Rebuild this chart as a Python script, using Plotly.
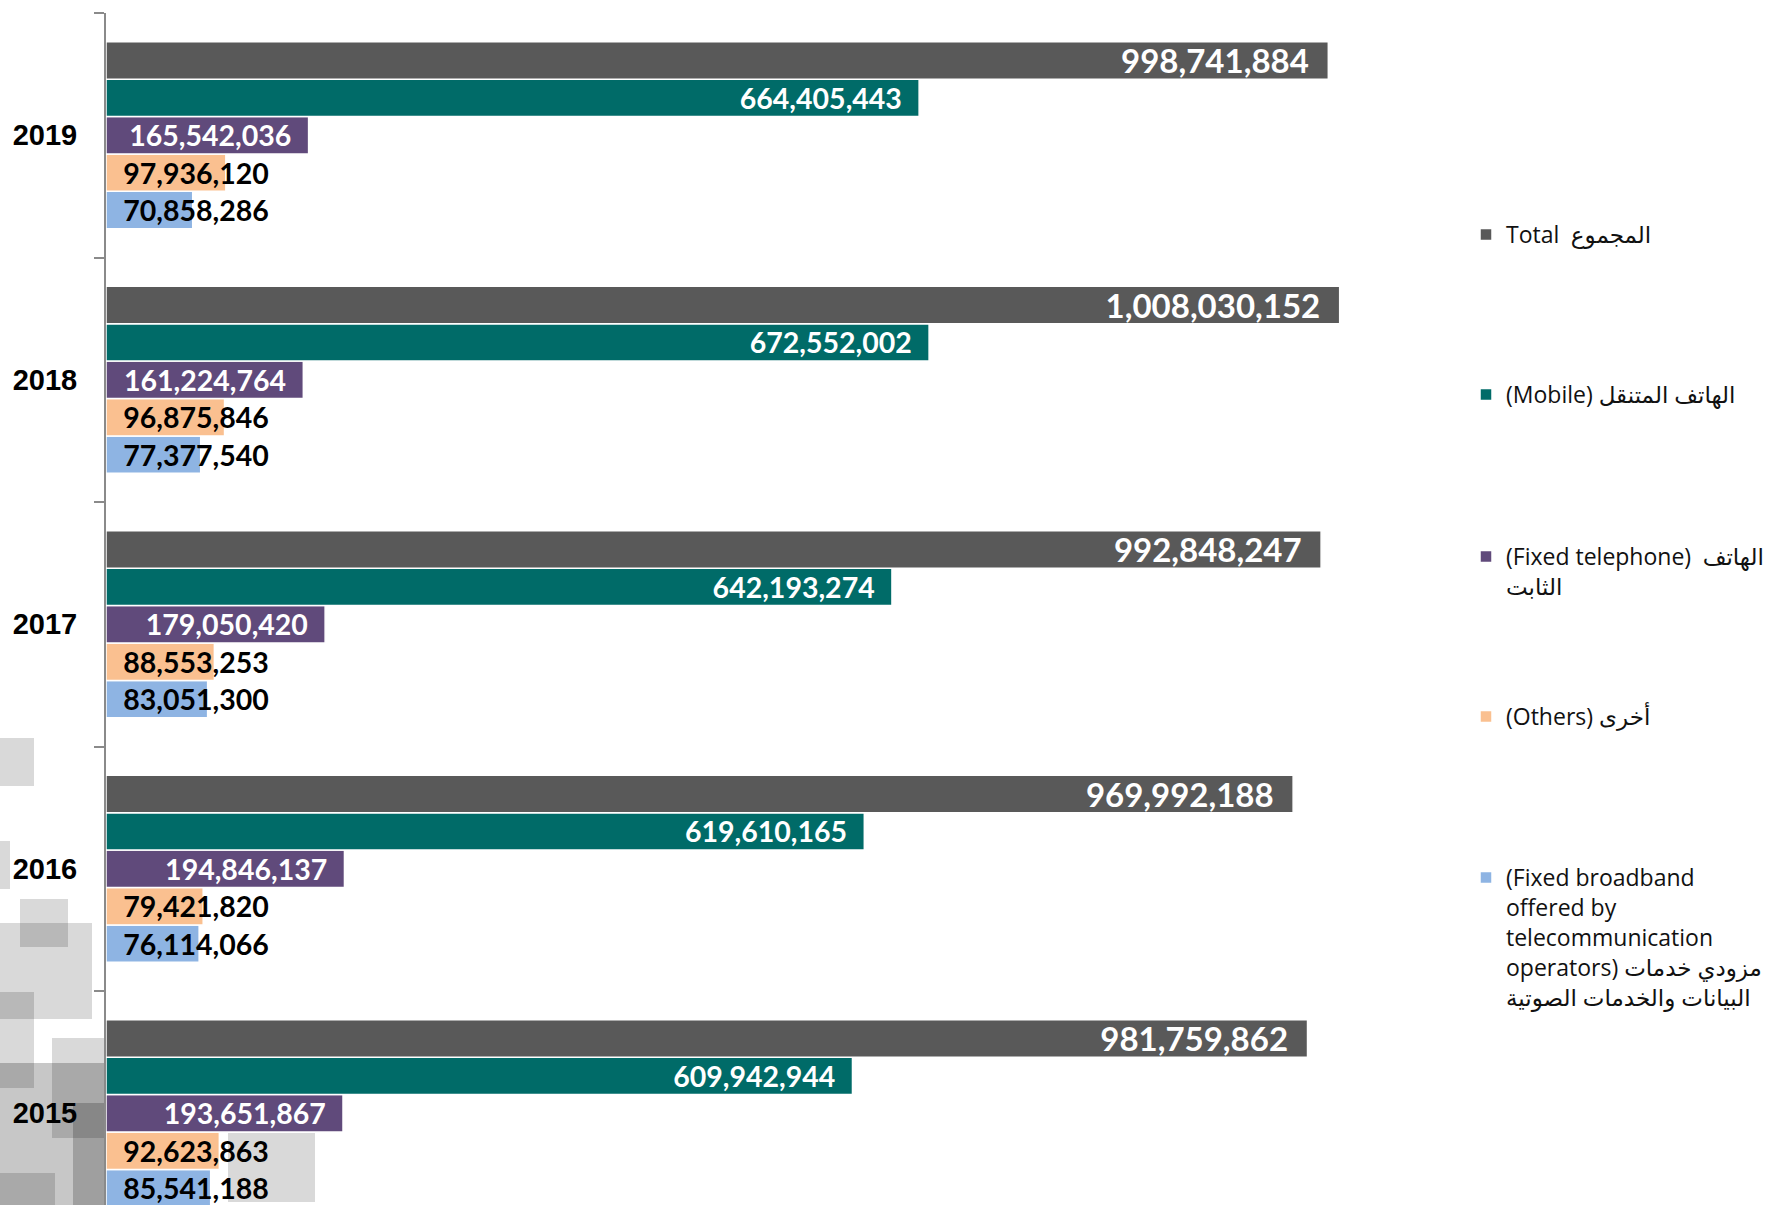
import plotly.graph_objects as go

years = ["2015", "2016", "2017", "2018", "2019"]
total = [981759862, 969992188, 992848247, 1008030152, 998741884]
mobile = [609942944, 619610165, 642193274, 672552002, 664405443]
fixed_tel = [193651867, 194846137, 179050420, 161224764, 165542036]
others = [92623863, 79421820, 88553253, 96875846, 97936120]
broadband = [85541188, 76114066, 83051300, 77377540, 70858286]

names = {
    "total": "Total\u2002المجموع",
    "mobile": "(Mobile) الهاتف المتنقل",
    "fixed": "(Fixed telephone)\u2002الهاتف<br>الثابت",
    "others": "(Others) أخرى",
    "broadband": "(Fixed broadband<br>offered by<br>telecommunication<br>operators) مزودي خدمات<br>البيانات والخدمات الصوتية",
}
colors = {
    "total": "#595959",
    "mobile": "#006b68",
    "fixed": "#604a7b",
    "others": "#fac090",
    "broadband": "#8eb4e3",
}

W, H = 1768, 1205
L, R, T, B = 106, 1440, 13, 0

lbl_font = "Lato, 'Open Sans', sans-serif"

fig = go.Figure()

def add(key, vals, legend, dark, size=28.5):
    if dark:
        tmpl = "%{x:,}\u2002"
        anchor = "end"
        col = "white"
    else:
        tmpl = "\u2002%{x:,}"
        anchor = "start"
        col = "black"
    fig.add_trace(go.Bar(
        y=years, x=vals, orientation="h", name=names[key],
        marker=dict(color=colors[key], line=dict(color="white", width=1.5)),
        texttemplate=tmpl, textposition="inside", insidetextanchor=anchor,
        constraintext="none", cliponaxis=False,
        textfont=dict(family=lbl_font, size=size, color=col, weight="bold"),
        insidetextfont=dict(family=lbl_font, size=size, color=col, weight="bold"),
        legend=legend, hoverinfo="skip",
    ))

add("broadband", broadband, "legend5", False)
add("others", others, "legend4", False)
add("fixed", fixed_tel, "legend3", True)
add("mobile", mobile, "legend2", True)
add("total", total, "legend", True, size=33)

# decorative background squares (pixel coordinates -> paper)
def px(x):
    return (x - L) / (R - L)

def py(y):
    return (H - B - y) / (H - T - B)

rects = [
    (0, 738, 34, 786, 0.15),
    (0, 841, 10, 889, 0.15),
    (20, 899, 68, 947, 0.15),
    (0, 923, 92, 1019, 0.15),
    (0, 992, 34, 1088, 0.15),
    (52, 1038, 105, 1138, 0.15),
    (0, 1063, 105, 1206, 0.22),
    (73, 1103, 105, 1206, 0.2),
    (0, 1173, 55, 1206, 0.15),
    (228, 1133, 315, 1202, 0.15),
]
shapes = []
for x0, y0, x1, y1, a in rects:
    shapes.append(dict(type="rect", xref="paper", yref="paper",
                       x0=px(x0), x1=px(x1), y0=py(y1), y1=py(y0),
                       fillcolor=f"rgba(0,0,0,{a})", line=dict(width=0),
                       layer="below"))

leg_font = dict(family="'Open Sans', 'DejaVu Sans', sans-serif", size=23, color="#111111")

def leg(ycenter):
    return dict(xref="container", yref="container", x=(1506 - 40) / W,
                y=1 - (ycenter - 20) / H, xanchor="left", yanchor="top",
                font=leg_font, valign="top", bgcolor="rgba(0,0,0,0)",
                itemclick=False, itemdoubleclick=False)

fig.update_layout(
    width=W, height=H,
    margin=dict(l=L, r=W - R, t=T, b=B, autoexpand=False),
    paper_bgcolor="white", plot_bgcolor="rgba(0,0,0,0)",
    barmode="group", bargap=0.235, bargroupgap=0.0,
    showlegend=True,
    legend=leg(233),
    legend2=leg(393),
    legend3=leg(555),
    legend4=leg(715),
    legend5=leg(876),
    shapes=shapes,
    xaxis=dict(range=[0, 1.090e9], visible=False, fixedrange=True),
    yaxis=dict(type="category", categoryorder="array", categoryarray=years,
               range=[-0.375, 4.5], showline=True, linecolor="#8a8a8a", linewidth=2,
               ticks="outside", tickson="boundaries", ticklen=10, tickcolor="#8a8a8a",
               tickwidth=2, showgrid=False, zeroline=False, ticklabelstandoff=21,
               tickfont=dict(family="'Liberation Sans', Arial, sans-serif", size=29,
                             color="black", weight="bold"),
               fixedrange=True),
)

fig.write_html("out.html", config={"displayModeBar": False},
               post_script="document.body.style.margin='0';document.body.style.overflow='hidden';")
